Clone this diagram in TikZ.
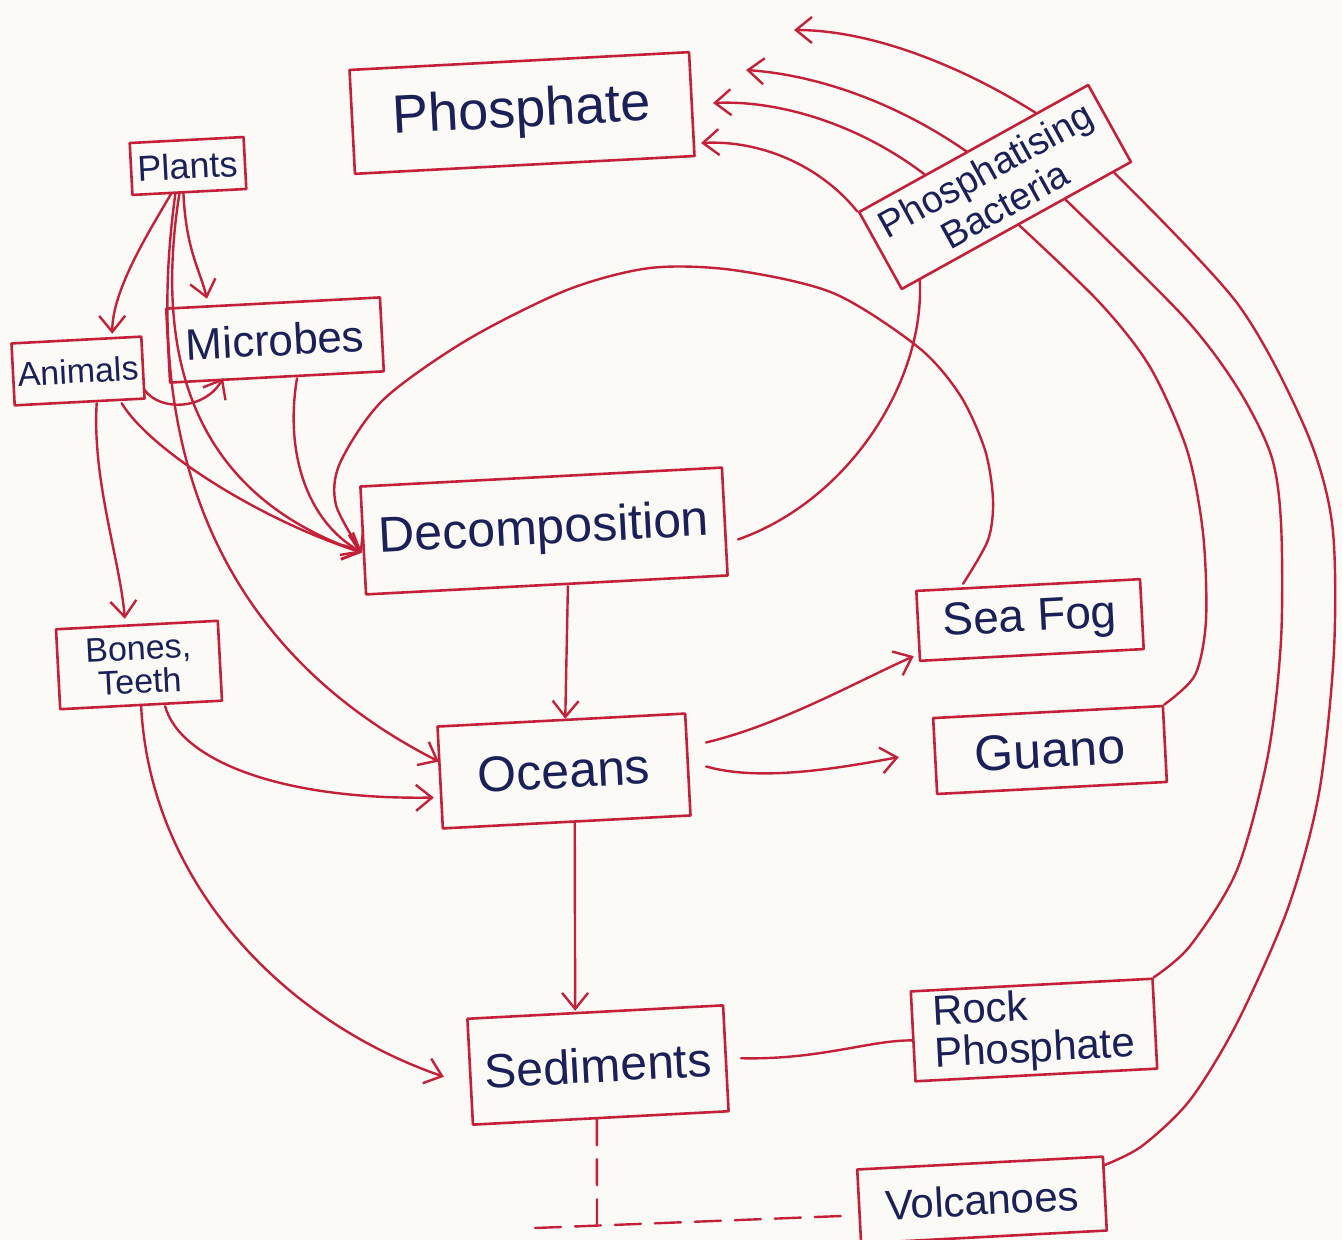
\documentclass[tikz,border=0pt]{standalone}
\usepackage{fontspec}
\setmainfont{Liberation Sans}
\usetikzlibrary{arrows.meta,calc}
\definecolor{penred}{RGB}{196,32,58}
\definecolor{inkblue}{RGB}{28,32,88}
\definecolor{paper}{RGB}{251,250,246}
\tikzset{
	box/.style={draw=penred, line width=1.3pt, rectangle, text=inkblue, inner sep=2pt, rotate=3, align=center},
	flow/.style={draw=penred, line width=1.2pt},
	seam/.style={flow, dash pattern=on 13pt off 7pt},
}
\begin{document}
\begin{tikzpicture}[x=0.5pt, y=-0.5pt, line join=round, line cap=round, >={Straight Barb[length=8pt,width=13pt]}]
				\fill[paper] (0,0) rectangle (1342,1240);
				\useasboundingbox (0,0) rectangle (1342,1240);
				\node[box, minimum width=170pt, minimum height=52pt, font=\fontsize{27}{30}\selectfont] (phos) at (522,113) {Phosphate};
				\node[box, minimum width=57pt, minimum height=26pt, font=\fontsize{18}{20}\selectfont] (plants) at (188,166) {Plants};
				\node[box, minimum width=65pt, minimum height=31pt, font=\fontsize{17}{20}\selectfont] (animals) at (78,371) {Animals};
				\node[box, minimum width=107pt, minimum height=37pt, font=\fontsize{22}{24}\selectfont] (microbes) at (275,340) {Microbes};
				\node[box, minimum width=181pt, minimum height=54pt, font=\fontsize{25}{28}\selectfont] (decomp) at (544,531) {Decomposition};
				\node[box, minimum width=81pt, minimum height=40pt, font=\fontsize{17}{17}\selectfont] (bones) at (139,665) {Bones,\\Teeth};
				\node[box, minimum width=124pt, minimum height=51pt, font=\fontsize{25}{28}\selectfont] (oceans) at (564,771) {Oceans};
				\node[box, minimum width=112pt, minimum height=35pt, font=\fontsize{23}{25}\selectfont] (seafog) at (1030,620) {Sea Fog};
				\node[box, minimum width=115pt, minimum height=38pt, font=\fontsize{25}{27}\selectfont] (guano) at (1050,750) {Guano};
				\node[box, minimum width=128pt, minimum height=53pt, font=\fontsize{24}{27}\selectfont] (sediments) at (598,1065) {Sediments};
				\node[box, align=left, minimum width=121pt, minimum height=45pt, font=\fontsize{21}{21}\selectfont] (rock) at (1034,1030) {Rock\\Phosphate};
				\node[box, minimum width=123pt, minimum height=37pt, font=\fontsize{21}{23}\selectfont] (volc) at (982,1200) {Volcanoes};
				\node[box, rotate=26, minimum width=131pt, minimum height=44pt, font=\fontsize{19}{20}\selectfont] (bact) at (995,187) {Phosphatising\\Bacteria};
				\draw[flow,->] ([xshift=-9pt]plants.south) .. controls (150,230) and (112,290) .. ([xshift=18pt,yshift=2.5pt]animals.north);
				\draw[flow,->] ([xshift=-3pt]plants.south) .. controls (186,250) and (200,270) .. ([xshift=-33pt,yshift=1.5pt]microbes.north);
				\draw[flow,->] ([xshift=-7pt]plants.south) .. controls (140,450) and (220,650) .. ([yshift=8pt]oceans.west);
				\draw[flow,->] ([xshift=-5pt]plants.south) .. controls (150,380) and (210,500) .. ([yshift=-6pt]decomp.west);
				\draw[flow,->] ([yshift=-11pt]animals.east) .. controls (160,412) and (205,410) .. ([xshift=-27pt]microbes.south);
				\draw[flow,->] ([xshift=21pt]animals.south) .. controls (150,450) and (260,520) .. ([yshift=-6pt]decomp.west);
				\draw[flow,->] ([xshift=8.5pt]animals.south) .. controls (92,480) and (120,560) .. ([xshift=-6pt,yshift=2.5pt]bones.north);
				\draw[flow,->] ([xshift=10pt]microbes.south) .. controls (285,450) and (305,520) .. ([yshift=-6pt]decomp.west);
				\draw[flow,->] plot[smooth] coordinates {([xshift=-32.5pt]seafog.north) (988,540) (993,500) (985,450) (960,395) (918,347) (833,293) (733,270) (650,268) (567,290) (467,340) (383,400) (340,463) (336,505) ([yshift=-6pt]decomp.west)};
				\draw[flow,->] ([xshift=10.5pt]decomp.south) -- ([xshift=2pt]oceans.north);
				\draw[flow] ([xshift=6pt,yshift=-9pt]decomp.east) .. controls (850,500) and (925,380) .. ($(bact.south west)!0.08!(bact.south east)$);
				\draw[flow,->] ([xshift=12pt]bones.south) .. controls (180,760) and (280,800) .. ([xshift=-2.5pt,yshift=-10pt]oceans.west);
				\draw[flow,->] (bones.south) .. controls (150,880) and (280,1020) .. ([xshift=-12.5pt,yshift=-2.5pt]sediments.west);
				\draw[flow,->] ([xshift=8.5pt,yshift=11pt]oceans.east) .. controls (780,725) and (860,680) .. ([xshift=-2.5pt,yshift=3pt]seafog.south west);
				\draw[flow,->] ([xshift=8.5pt,yshift=-1pt]oceans.east) .. controls (760,782) and (840,768) .. ([xshift=-17.5pt,yshift=-0.5pt]guano.west);
				\draw[flow,->] ([xshift=4pt]oceans.south) -- ([xshift=-10pt]sediments.north);
				\draw[flow] ([xshift=7pt]sediments.east) .. controls (820,1060) and (870,1040) .. ([yshift=-2pt]rock.west);
				\coordinate (seabed) at (597,1224);
				\draw[seam] ([xshift=-2pt]sediments.south) -- (seabed);
				\draw[seam] ([xshift=-31pt,yshift=-2pt]seabed) -- ([xshift=-2pt,yshift=-4.5pt]volc.west);
				\draw[flow] plot[smooth] coordinates {(guano.north east) (1195,675) (1206,620) (1203,533) (1187,450) (1150,367) (1100,303) ($(bact.south west)!0.51!(bact.south east)$)};
				\draw[flow] plot[smooth] coordinates {(rock.north east) (1190,946) (1237,870) (1268,755) (1281,640) (1281,523) (1271,455) (1237,387) (1183,316) ($(bact.south west)!0.71!(bact.south east)$)};
				\draw[flow] plot[smooth] coordinates {([yshift=-5pt]volc.north east) (1142,1146) (1190,1100) (1237,1023) (1288,908) (1319,793) (1334,650) (1332,523) (1305,428) (1237,303) ($(bact.south west)!0.92!(bact.south east)$)};
				\draw[flow,->] ($(bact.north west)!0.77!(bact.north east)$) .. controls (960,65) and (870,30) .. ([xshift=50.5pt,yshift=37pt]phos.east);
				\draw[flow,->] ($(bact.north west)!0.47!(bact.north east)$) .. controls (900,105) and (820,75) .. ([xshift=26.5pt,yshift=17pt]phos.east);
				\draw[flow,->] ($(bact.north west)!0.29!(bact.north east)$) .. controls (860,125) and (780,100) .. ([xshift=10pt,yshift=0.5pt]phos.east);
				\draw[flow,->] (bact.north west) .. controls (820,165) and (760,140) .. ([xshift=4pt,yshift=-19.5pt]phos.east);
\end{tikzpicture}
\end{document}
